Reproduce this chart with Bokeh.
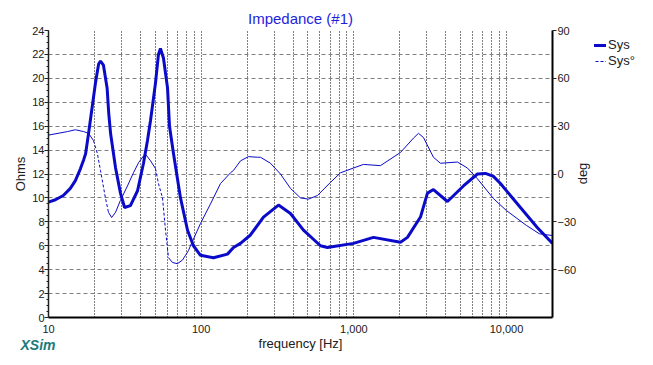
import numpy as np
from bokeh.plotting import figure
from bokeh.layouts import row
from bokeh.models import (Range1d, LinearAxis, FixedTicker, Label, Legend,
                          LegendItem, CustomJSTickFormatter)
from bokeh.embed import file_html
from bokeh.resources import INLINE

# ---------------- data ----------------
freq_ticks = [10, 100, 1000, 10000]
freq_tick_labels = ["10", "100", "1,000", "10,000"]
ohm_ticks = [0, 2, 4, 6, 8, 10, 12, 14, 16, 18, 20, 22, 24]
deg_ticks = [-60, -30, 0, 30, 60, 90]

mag_freq = [10, 11.1, 12.5, 13.9, 15.0, 16.2, 17.0, 17.5, 18.3, 18.8, 20.3, 21.3,
            21.9, 22.9, 24.2, 24.8, 25.5, 27.5, 29.6, 31.5, 34.4, 38.3, 41.9, 44.5,
            46.6, 50.2, 52.5, 54.1, 56.6, 60.2, 62.0, 65.9, 73.2, 81.4, 89.0, 98.9,
            120.4, 148.7, 162.8, 180.9, 210.3, 255.9, 320.8, 384.4, 467.7, 604.3,
            671.6, 993.9, 1344, 2020, 2244, 2731, 3034, 3321, 4102, 5220, 6449,
            7274, 8207, 9120, 12330, 15940, 20000]
mag_ohm = [9.65, 9.85, 10.2, 10.8, 11.45, 12.45, 13.2, 13.7, 15.4, 16.5, 19.6, 21.2,
           21.45, 21.1, 19.2, 17.1, 15.4, 12.5, 10.4, 9.2, 9.35, 10.6, 12.9, 14.8,
           16.5, 19.6, 22.0, 22.5, 21.7, 19.2, 16.0, 13.7, 10.0, 7.3, 6.0, 5.2,
           5.0, 5.3, 5.85, 6.2, 6.9, 8.4, 9.4, 8.7, 7.3, 6.0,
           5.85, 6.2, 6.7, 6.3, 6.7, 8.4, 10.4, 10.7, 9.7, 11.0, 12.0,
           12.05, 11.8, 11.2, 9.2, 7.5, 6.2]

phase_freq = [10, 13.3, 15.0, 17.0, 18.3, 19.7, 20.9, 21.9, 23.6, 24.7, 25.9, 27.5,
              29.6, 32.9, 36.0, 38.9, 42.1, 43.5, 46.6, 50.2, 52.5, 55.8, 58.4, 61.1,
              64.9, 69.9, 75.4, 78.9, 82.6, 85.1, 98.9, 115.1, 133.8, 155.6, 162.8,
              180.9, 204.1, 233.8, 244.6, 284.3, 330.6, 384.4, 447, 504.3, 577.5,
              702.8, 817.3, 993.9, 1156, 1494, 2020, 2457, 2649, 2857, 3321, 3691,
              4770, 5544, 6449, 8207, 9977, 13490, 16410, 20000]
phase_deg = [24.4, 26.6, 27.75, 26.6, 25.5, 21.0, 12.75, 2.25, -15, -24, -27.3, -24,
             -16.5, -7.5, 0.75, 7.1, 11.6, 12.0, 8.25, 3.4, -6, -15, -35.25, -52.5,
             -55.5, -56.25, -54, -51, -48, -45, -31.1, -18.75, -6, 0.75, 2.25,
             8.25, 10.9, 10.5, 10.5, 6.75, 0, -9, -15, -15.75, -13.5,
             -5.25, 0.75, 3.75, 6, 5.25, 13.5, 22.5, 25.5, 22.9, 10.5, 6.75,
             7.5, 3.75, -3, -15.4, -22.9, -32.25, -37.5, -38.6]

# ---------------- layout ----------------
FW, FH = 504, 287
BL, BR, BT, BB = 48, 32, 30, 48
TOTAL_W, TOTAL_H = 653, 365
BLUE = "#0A0AC8"
FONT = "Liberation Sans"
TXT = "#202020"

p = figure(x_axis_type="log", x_range=Range1d(10, 20000), y_range=Range1d(0, 24),
           frame_width=FW, frame_height=FH, output_backend="svg",
           toolbar_location=None, min_border_left=BL, min_border_right=BR,
           min_border_top=BT, min_border_bottom=BB)
p.extra_y_ranges = {"deg": Range1d(-90, 90)}
p.outline_line_color = None
p.background_fill_color = "white"
p.border_fill_color = "white"

# title
p.title.text = "Impedance (#1)"
p.title.align = "center"
p.title.text_font = FONT
p.title.text_font_size = "15px"
p.title.text_font_style = "normal"
p.title.text_color = "#1E1EDC"
p.title.standoff = 8

# grids
grid_freqs = [m * 10 ** d for d in range(1, 5) for m in range(1, 10)
              if 10 < m * 10 ** d < 20000]
p.xgrid.ticker = FixedTicker(ticks=grid_freqs)
p.xgrid.grid_line_color = "black"
p.xgrid.grid_line_dash = "1 2"
p.xgrid.grid_line_width = 1
p.ygrid.ticker = FixedTicker(ticks=ohm_ticks)
p.ygrid.grid_line_color = "#808080"
p.ygrid.grid_line_dash = "4 3"
p.ygrid.grid_line_width = 1

# bottom axis
xa = p.xaxis[0]
xa.ticker = FixedTicker(ticks=freq_ticks, minor_ticks=[])
xa.formatter = CustomJSTickFormatter(
    args=dict(t=freq_ticks, l=freq_tick_labels),
    code="const i = t.indexOf(tick); return i >= 0 ? l[i] : '';")
xa.axis_label = "frequency [Hz]"
xa.axis_line_width = 2
xa.axis_line_color = "black"
xa.major_tick_out = 0
xa.major_tick_in = 0
xa.major_label_standoff = 7
xa.axis_label_standoff = 0

# left axis
ya = p.yaxis[0]
ya.ticker = FixedTicker(ticks=ohm_ticks, minor_ticks=[i * 0.5 for i in range(49)])
ya.axis_label = "Ohms"
ya.axis_line_width = 1.5
ya.axis_line_color = TXT
ya.major_tick_out = 4
ya.major_tick_in = 0
ya.minor_tick_out = 2
ya.minor_tick_in = 0
ya.major_label_standoff = 0
ya.axis_label_standoff = 1

# right axis
ra = LinearAxis(y_range_name="deg", ticker=FixedTicker(ticks=deg_ticks, minor_ticks=[]))
ra.axis_line_width = 2
ra.axis_line_color = "black"
ra.major_tick_out = 4
ra.major_tick_in = 0
ra.major_label_standoff = 1
p.add_layout(ra, "right")

for ax in (xa, ya, ra):
    ax.major_label_text_font = FONT
    ax.major_label_text_font_size = "11px"
    ax.major_label_text_color = TXT
    ax.axis_label_text_font = FONT
    ax.axis_label_text_font_size = "13px"
    ax.axis_label_text_font_style = "normal"
    ax.axis_label_text_color = TXT
    ax.major_tick_line_color = TXT
    ax.minor_tick_line_color = TXT

# right-axis title, read bottom-to-top like "Ohms"
p.add_layout(Label(x=3, y=FH - (173 - BT), x_units="screen", y_units="screen",
                   text="deg", angle=90, angle_units="deg", text_align="center",
                   text_baseline="middle", text_font=FONT, text_font_size="13px",
                   text_color=TXT), "right")

# magnitude
mag_r = p.line(mag_freq, mag_ohm, line_color=BLUE, line_width=3)

# phase: solid where shallow, dashed where steep
lx = np.log10(np.array(phase_freq, dtype=float)) * FW / np.log10(2000)
py = np.array(phase_deg, dtype=float) / 180.0 * FH
steep = np.abs(np.diff(py)) / np.maximum(np.diff(lx), 1e-6) > 3.0
runs = {True: ([], []), False: ([], [])}
start = 0
for i in range(1, len(steep) + 1):
    if i == len(steep) or steep[i] != steep[start]:
        runs[bool(steep[start])][0].append(phase_freq[start:i + 1])
        runs[bool(steep[start])][1].append(phase_deg[start:i + 1])
        start = i
p.multi_line(runs[False][0], runs[False][1], line_color=BLUE, line_width=1,
             y_range_name="deg")
p.multi_line(runs[True][0], runs[True][1], line_color=BLUE, line_width=1,
             line_dash="3 2", y_range_name="deg")

# branding
p.add_layout(Label(x=-28, y=25, x_units="screen", y_units="screen",
                   text="XSim", text_align="left", text_baseline="alphabetic",
                   text_font=FONT, text_font_size="14px", text_font_style="bold italic",
                   text_color="#1A7A7A"), "below")

# ---------------- side figure: legend ----------------
# (its frame is aligned with the main frame by the row layout: top BT, height FH)
MAIN_W = BL + FW + BR
SW = TOTAL_W - MAIN_W
s = figure(width=SW, height=TOTAL_H, x_range=Range1d(0, 1), y_range=Range1d(0, 1),
           output_backend="svg", toolbar_location=None, title=None,
           x_axis_location=None, y_axis_location=None, min_border=0)
s.outline_line_color = None
s.xgrid.visible = False
s.ygrid.visible = False
s.background_fill_color = "white"
s.border_fill_color = "white"

# legend proxies: same series, but they fall outside this panel's ranges
leg_sys = s.line(x=mag_freq, y=mag_ohm, line_color=BLUE, line_width=3)
leg_ph = s.line(x=phase_freq, y=phase_deg, line_color=BLUE, line_width=1,
                line_dash="3 2")
legend = Legend(items=[LegendItem(label="Sys", renderers=[leg_sys]),
                       LegendItem(label="Sys°", renderers=[leg_ph])],
                location=(580 - MAIN_W, FH - (72 - BT)))
legend.border_line_color = None
legend.background_fill_alpha = 0
legend.padding = 0
legend.margin = 0
legend.spacing = 1
legend.glyph_width = 16
legend.glyph_height = 14
legend.label_standoff = 2
legend.label_text_font = FONT
legend.label_text_font_size = "13px"
legend.label_text_color = TXT
legend.label_height = 14
s.add_layout(legend)

layout = row(p, s, spacing=0)
open("out.html", "w").write(file_html(layout, INLINE))
